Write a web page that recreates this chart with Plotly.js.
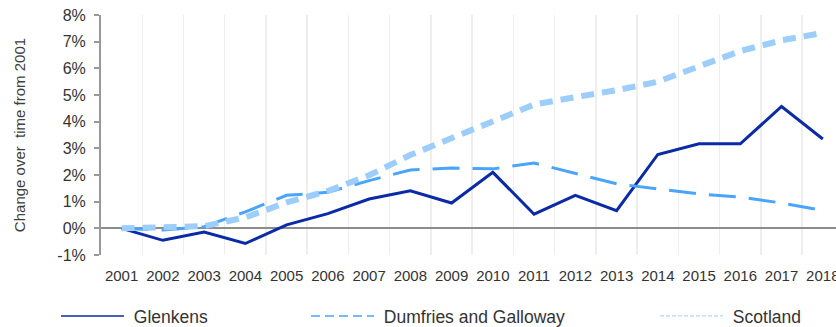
<!DOCTYPE html>
<html>
<head>
<meta charset="utf-8">
<script src="https://cdn.plot.ly/plotly-3.0.1.min.js"></script>
<style>
  html, body { margin: 0; padding: 0; background: #ffffff; }
  #chart { width: 836px; height: 327px; }
</style>
</head>
<body>
<div id="chart"></div>
<script>
const years = ['2001','2002','2003','2004','2005','2006','2007','2008','2009','2010','2011','2012','2013','2014','2015','2016','2017','2018'];
const glenkens = [0, -0.45, -0.14, -0.57, 0.13, 0.55, 1.1, 1.41, 0.95, 2.1, 0.53, 1.24, 0.66, 2.77, 3.17, 3.17, 4.57, 3.35];
const dumfries = [0, -0.06, 0.06, 0.62, 1.24, 1.35, 1.79, 2.19, 2.26, 2.23, 2.45, 2.05, 1.67, 1.48, 1.29, 1.17, 0.95, 0.67];
const scotland = [0, 0.04, 0.08, 0.41, 0.97, 1.4, 1.99, 2.75, 3.4, 4.0, 4.64, 4.92, 5.18, 5.5, 6.08, 6.65, 7.05, 7.33];
const seriesNames = ['Glenkens', 'Dumfries and Galloway', 'Scotland'];
const yTickVals = [-1, 0, 1, 2, 3, 4, 5, 6, 7, 8];
const yTickText = ['-1%', '0%', '1%', '2%', '3%', '4%', '5%', '6%', '7%', '8%'];

const cGlen = '#0b2ba6';
const cDum = '#4aa5f8';
const cSco = '#9dcdfb';

const traces = [
  {x: years, y: glenkens, type: 'scatter', mode: 'lines', showlegend: false,
   line: {color: cGlen, width: 3}},
  {x: years, y: dumfries, type: 'scatter', mode: 'lines', showlegend: false,
   line: {color: cDum, width: 3, dash: '27px,13px'}},
  {x: years, y: scotland, type: 'scatter', mode: 'lines', showlegend: false,
   line: {color: cSco, width: 6, dash: '13px,8px'}},
  // legend entries
  {x: [years[0]], y: [null], type: 'scatter', mode: 'lines', name: '\u00a0' + seriesNames[0], legend: 'legend',
   line: {color: cGlen, width: 1.5}},
  {x: [years[0]], y: [null], type: 'scatter', mode: 'lines', name: '\u00a0' + seriesNames[1], legend: 'legend2',
   line: {color: cDum, width: 1.5, dash: '9px,5px'}},
  {x: [years[0]], y: [null], type: 'scatter', mode: 'lines', name: '\u00a0' + seriesNames[2], legend: 'legend3',
   line: {color: cSco, width: 1, dash: '4px,2px'}}
];

const legendBase = {
  orientation: 'h', xref: 'container', yref: 'container', yanchor: 'middle', xanchor: 'left',
  y: (327 - 316) / 327, itemwidth: 63, bgcolor: 'rgba(0,0,0,0)', borderwidth: 0,
  font: {family: 'Arial, Liberation Sans, sans-serif', size: 17.5, color: '#333333'}
};

const layout = {
  width: 836, height: 327,
  margin: {l: 101, r: 0, t: 15, b: 72, autoexpand: false},
  paper_bgcolor: '#ffffff', plot_bgcolor: '#ffffff',
  font: {family: 'Arial, Liberation Sans, sans-serif', color: '#333333'},
  showlegend: true,
  xaxis: {
    type: 'category', range: [-0.5, 17.32], tickson: 'boundaries',
    showgrid: true, gridcolor: '#eeeeee', gridwidth: 1.5,
    ticks: '', showline: false, zeroline: false, tickangle: 0,
    tickfont: {size: 15, color: '#333333'}, ticklabelstandoff: 10,
    fixedrange: true
  },
  yaxis: {
    range: [-1, 8], tickmode: 'array', tickvals: yTickVals, ticktext: yTickText,
    showgrid: false, showline: true, linecolor: '#999999', linewidth: 2,
    ticks: 'outside', ticklen: 5, tickwidth: 2, tickcolor: '#999999',
    zeroline: true, zerolinecolor: '#8c8c8c', zerolinewidth: 2,
    tickfont: {size: 16, color: '#333333'}, ticklabelstandoff: 5,
    title: {text: 'Change over  time from 2001', font: {size: 15, color: '#404040'}, standoff: 28},
    fixedrange: true
  },
  legend: Object.assign({}, legendBase, {x: 56 / 836}),
  legend2: Object.assign({}, legendBase, {x: 306 / 836}),
  legend3: Object.assign({}, legendBase, {x: 655 / 836})
};

Plotly.newPlot('chart', traces, layout, {displayModeBar: false, staticPlot: true});
</script>
</body>
</html>
